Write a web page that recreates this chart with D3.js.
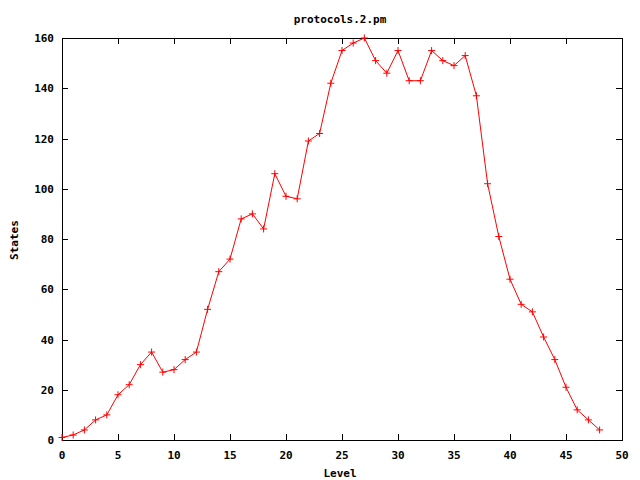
<!DOCTYPE html>
<html><head><meta charset="utf-8">
<script src="https://cdn.jsdelivr.net/npm/d3@7"></script>
<style>body{margin:0;background:#fff}svg{display:block}text{font-family:"DejaVu Sans Mono",monospace;font-weight:bold;font-size:11px;fill:#000}</style>
</head><body>
<script>
const levels = d3.range(0, 49);
const states = [1,2,4,8,10,18,22,30,35,27,28,32,35,52,67,72,88,90,84,106,97,96,119,122,142,155,158,160,151,146,155,143,143,155,151,149,153,137,102,81,64,54,51,41,32,21,12,8,4];
const xTicks = [0,5,10,15,20,25,30,35,40,45,50];
const yTicks = [0,20,40,60,80,100,120,140,160];
const title = "protocols.2.pm", xLabel = "Level", yLabel = "States";

const W = 640, H = 480, L = 62, R = 622, T = 38, B = 440;
const svg = d3.select("body").append("svg").attr("width", W).attr("height", H);
const x = d3.scaleLinear().domain([0, 50]).range([L, R]);
const y = d3.scaleLinear().domain([0, 160]).range([B, T]);

// ticks (inward, mirrored)
const tl = 6;
const g = svg.append("g").attr("stroke", "#000").attr("stroke-width", 1).attr("shape-rendering", "crispEdges");
xTicks.forEach(t => {
  const px = Math.round(x(t)) + 0.5;
  g.append("line").attr("x1", px).attr("x2", px).attr("y1", B).attr("y2", B - tl);
  g.append("line").attr("x1", px).attr("x2", px).attr("y1", T).attr("y2", T + tl);
});
yTicks.forEach(t => {
  const py = Math.round(y(t)) + 0.5;
  g.append("line").attr("x1", L).attr("x2", L + tl).attr("y1", py).attr("y2", py);
  g.append("line").attr("x1", R).attr("x2", R - tl).attr("y1", py).attr("y2", py);
});
g.append("rect").attr("x", L + 0.5).attr("y", T + 0.5).attr("width", R - L).attr("height", B - T).attr("fill", "none");

svg.selectAll(".xt").data(xTicks).enter().append("text")
  .attr("x", d => x(d)).attr("y", 459).attr("text-anchor", "middle").text(d => d);
svg.selectAll(".yt").data(yTicks).enter().append("text")
  .attr("x", 54).attr("y", d => y(d) + 4).attr("text-anchor", "end").text(d => d);

svg.append("text").attr("x", 340).attr("y", 23).attr("text-anchor", "middle").text(title);
svg.append("text").attr("x", 340).attr("y", 477).attr("text-anchor", "middle").text(xLabel);
svg.append("text").attr("transform", "translate(18,240) rotate(-90)").attr("text-anchor", "middle").text(yLabel);

const data = levels.map((l, i) => [l, states[i]]);
svg.append("path").datum(data)
  .attr("d", d3.line().x(d => x(d[0])).y(d => y(d[1])))
  .attr("fill", "none").attr("stroke", "#f00").attr("stroke-width", 1);
const s = 3.5;
const pts = svg.append("g").attr("stroke", "#f00").attr("stroke-width", 1);
data.forEach(d => {
  const px = x(d[0]), py = y(d[1]);
  pts.append("line").attr("x1", px - s).attr("x2", px + s).attr("y1", py).attr("y2", py);
  pts.append("line").attr("x1", px).attr("x2", px).attr("y1", py - s).attr("y2", py + s);
});
</script>
</body></html>
